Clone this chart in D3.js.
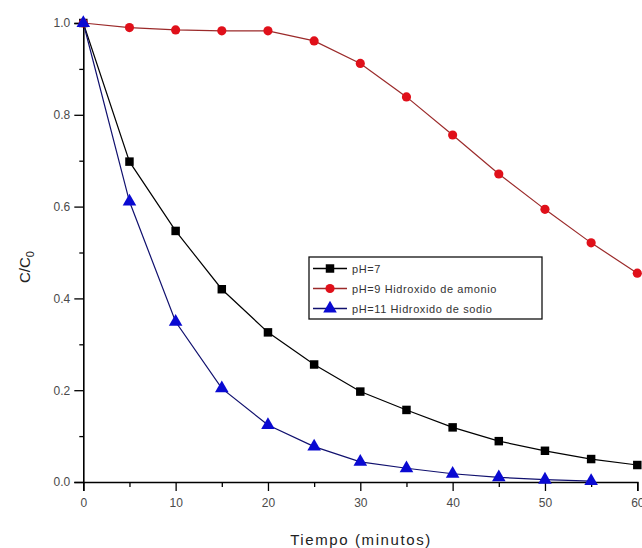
<!DOCTYPE html>
<html>
<head>
<meta charset="utf-8">
<script src="https://cdn.jsdelivr.net/npm/d3@7"></script>
<style>
  html, body { margin: 0; padding: 0; background: #fff; }
  svg { display: block; font-family: "Liberation Sans", Arial, sans-serif; }
</style>
</head>
<body>
<svg id="chart" width="642" height="548"></svg>
<script>
// ---- data ----
const times = [0, 5, 10, 15, 20, 25, 30, 35, 40, 45, 50, 55, 60];
const ph7  = [1.0, 0.698, 0.547, 0.420, 0.326, 0.256, 0.197, 0.157, 0.119, 0.089, 0.068, 0.050, 0.037];
const ph9  = [1.0, 0.990, 0.985, 0.983, 0.983, 0.961, 0.912, 0.839, 0.756, 0.671, 0.594, 0.521, 0.455];
const ph11 = [1.0, 0.611, 0.349, 0.204, 0.124, 0.077, 0.044, 0.030, 0.018, 0.010, 0.005, 0.002];
const seriesNames = ["pH=7", "pH=9 Hidroxido de amonio", "pH=11 Hidroxido de sodio"];
const xTicks = [0, 10, 20, 30, 40, 50, 60];
const yTicks = [0.0, 0.2, 0.4, 0.6, 0.8, 1.0];
const xLabel = "Tiempo (minutos)";

const series = [
  { name: seriesNames[0], values: ph7,  line: "#000000", fill: "#000000", sym: d3.symbolSquare,   size: 72 },
  { name: seriesNames[1], values: ph9,  line: "#9b2a2a", fill: "#e0101a", sym: d3.symbolCircle,   size: 66 },
  { name: seriesNames[2], values: ph11, line: "#10106e", fill: "#0a0ad2", sym: d3.symbolTriangle, size: 80 }
];

const svg = d3.select("#chart");
const x = d3.scaleLinear().domain([0, 60]).range([83.3, 637.3]);
const y = d3.scaleLinear().domain([0, 1]).range([482, 23]);

// ---- axes ----
const tickColor = "#000";
const labelColor = "#4a4a4a";

// minor ticks
const xMinor = d3.range(5, 60, 10);
const yMinor = d3.range(0.1, 1.0, 0.2);

const gx = svg.append("g").attr("transform", `translate(0,${y(0)})`);
gx.call(d3.axisBottom(x).tickValues(xTicks).tickSize(9).tickPadding(7).tickFormat(d3.format("d")));
gx.append("g").call(d3.axisBottom(x).tickValues(xMinor).tickSize(5).tickFormat(""))
  .select(".domain").remove();

const gy = svg.append("g").attr("transform", `translate(${x(0)},0)`);
gy.call(d3.axisLeft(y).tickValues(yTicks).tickSize(9).tickPadding(4).tickFormat(d3.format(".1f")));
gy.append("g").call(d3.axisLeft(y).tickValues(yMinor).tickSize(4).tickFormat(""))
  .select(".domain").remove();

svg.selectAll(".domain").attr("stroke", tickColor).attr("stroke-width", 1.6);
svg.selectAll(".tick line").attr("stroke", tickColor).attr("stroke-width", 1.3);
svg.selectAll(".tick text").attr("fill", labelColor).attr("font-size", 12);

// axis titles
svg.append("text")
  .attr("x", 361).attr("y", 545)
  .attr("text-anchor", "middle")
  .attr("font-size", 15)
  .attr("letter-spacing", 1.6)
  .attr("fill", "#222")
  .text(xLabel);

const yt = svg.append("text")
  .attr("transform", "translate(30,267) rotate(-90)")
  .attr("text-anchor", "middle")
  .attr("font-size", 15)
  .attr("fill", "#222");
yt.append("tspan").text("C/C");
yt.append("tspan").attr("dy", 4).attr("font-size", 11).text("0");

// ---- lines & markers ----
const line = d3.line().x((d, i) => x(times[i])).y(d => y(d));

series.forEach(s => {
  svg.append("path")
    .datum(s.values)
    .attr("fill", "none")
    .attr("stroke", s.line)
    .attr("stroke-width", 1.2)
    .attr("d", line);
});

series.forEach(s => {
  svg.append("g").selectAll("path")
    .data(s.values)
    .join("path")
    .attr("transform", (d, i) => `translate(${x(times[i])},${y(d)})`)
    .attr("d", d3.symbol().type(s.sym).size(s.size))
    .attr("fill", s.fill);
});

// ---- legend ----
const lg = svg.append("g");
lg.append("rect")
  .attr("x", 309).attr("y", 257).attr("width", 233).attr("height", 62)
  .attr("fill", "#fff").attr("stroke", "#111").attr("stroke-width", 1.3);
const rowY = [268.5, 288.5, 308.5];
series.forEach((s, i) => {
  lg.append("line")
    .attr("x1", 313).attr("x2", 347).attr("y1", rowY[i]).attr("y2", rowY[i])
    .attr("stroke", s.line).attr("stroke-width", 1.3);
  lg.append("path")
    .attr("transform", `translate(330,${rowY[i]})`)
    .attr("d", d3.symbol().type(s.sym).size(s.size))
    .attr("fill", s.fill);
  lg.append("text")
    .attr("x", 352).attr("y", rowY[i] + 4)
    .attr("font-size", 11)
    .attr("letter-spacing", 0.6)
    .attr("fill", "#333")
    .text(s.name);
});
</script>
</body>
</html>
